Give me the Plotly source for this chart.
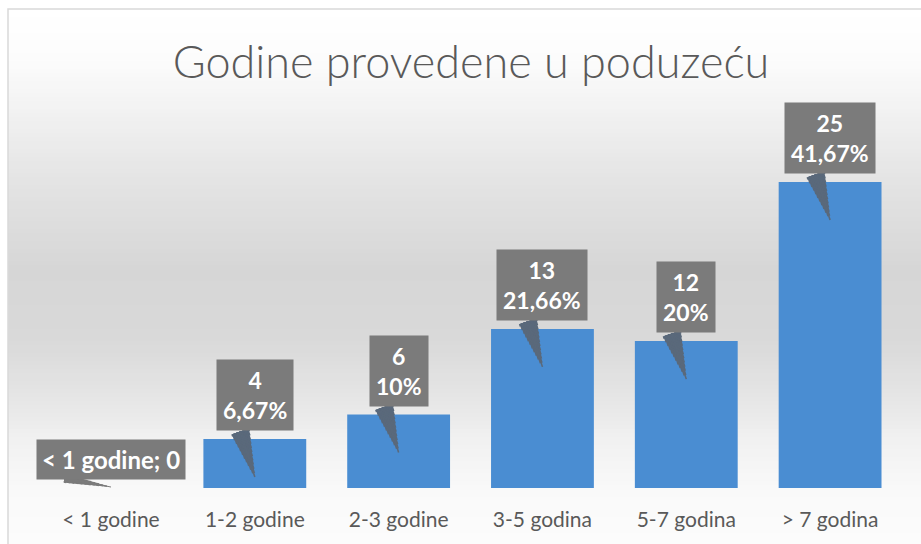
import plotly.graph_objects as go

# ---- data ----
categories = ["< 1 godine", "1-2 godine", "2-3 godine", "3-5 godina", "5-7 godina", "> 7 godina"]
counts = [0, 4, 6, 13, 12, 25]
percent_labels = ["0%", "6,67%", "10%", "21,66%", "20%", "41,67%"]
title_text = "Godine provedene u poduzeću"

W, H = 921, 544
FONT = "Lato"

fig = go.Figure()
fig.add_trace(go.Bar(
    x=categories, y=counts, width=0.715,
    marker=dict(color="#4a8dd2", line=dict(width=0)),
    hoverinfo="x+y",
))

# ---- background gradient (style only) ----
stops = [(9, 255), (60, 252), (100, 244), (180, 228), (270, 214), (340, 217),
         (400, 230), (440, 241), (490, 249), (544, 252)]
shapes = []
step = 4
y = 9
while y < H:
    y2 = min(y + step, H)
    ym = (y + y2) / 2
    for (a, ga), (b, gb) in zip(stops[:-1], stops[1:]):
        if a <= ym <= b:
            g = ga + (gb - ga) * (ym - a) / (b - a)
            break
    g = int(round(g))
    shapes.append(dict(type="rect", xref="paper", yref="paper",
                       x0=8 / W, x1=1.0, y0=1 - y2 / H, y1=1 - y / H,
                       fillcolor=f"rgb({g},{g},{g})", line=dict(width=0), layer="below"))
    y = y2
shapes.append(dict(type="rect", xref="paper", yref="paper",
                   x0=8 / W, x1=1.05, y0=-0.05, y1=1 - 9 / H,
                   line=dict(color="#d9d9d9", width=1.5), fillcolor="rgba(0,0,0,0)", layer="below"))

# ---- callouts ----
annotations = []
BOX = "#7b7b7b"
PTR_BAR = "#5a697b"
NSTEP = 12


def pointer(cat, v, ax, ay, wmax, color, yshift):
    L = (ax ** 2 + ay ** 2) ** 0.5
    out = []
    for k in range(NSTEP):
        w = wmax * (1 - k / NSTEP)
        s = L * (1 - (k + 1) / NSTEP)
        out.append(dict(x=cat, y=v, xref="x", yref="y", text="", showarrow=True,
                        arrowhead=0, arrowwidth=max(w, 1), arrowcolor=color,
                        ax=ax, ay=ay, standoff=s, yshift=yshift))
    return out


for i, (cat, v, pct) in enumerate(zip(categories, counts, percent_labels)):
    if v == 0:
        annotations += pointer(cat, v, -48, -9, 9, BOX, 1)
        annotations.append(dict(x=cat, y=v, xref="x", yref="y", showarrow=False,
                                text=f"<b>{cat}; {v}</b>", yshift=29,
                                font=dict(family=FONT, size=24, color="white"),
                                bgcolor=BOX, borderpad=5))
    else:
        annotations += pointer(cat, v, -15, -47, 19, PTR_BAR, -38)
        annotations.append(dict(x=cat, y=v, xref="x", yref="y", showarrow=False,
                                text=f"<b>{v}<br>{pct}</b>", yshift=44,
                                font=dict(family=FONT, size=23, color="white"),
                                bgcolor=BOX, borderpad=6, align="center"))

fig.update_layout(
    width=W, height=H,
    margin=dict(l=0, r=0, t=0, b=0),
    paper_bgcolor="white", plot_bgcolor="rgba(0,0,0,0)",
    showlegend=False,
    shapes=shapes, annotations=annotations,
    title=dict(text=title_text, x=471 / W, y=1 - 62 / H, xanchor="center", yanchor="middle",
               xref="paper", yref="paper",
               font=dict(family=FONT, size=45, color="#595959", weight=300)),
    xaxis=dict(type="category", domain=[36 / W, 902 / W], showgrid=False, zeroline=False,
               showline=False, ticks="", ticklabelstandoff=17,
               tickfont=dict(family=FONT, size=21, color="#595959")),
    yaxis=dict(range=[0, 30], domain=[56 / H, (H - 120.8) / H], visible=False),
    bargap=0.285,
)

fig.write_html("out.html")
